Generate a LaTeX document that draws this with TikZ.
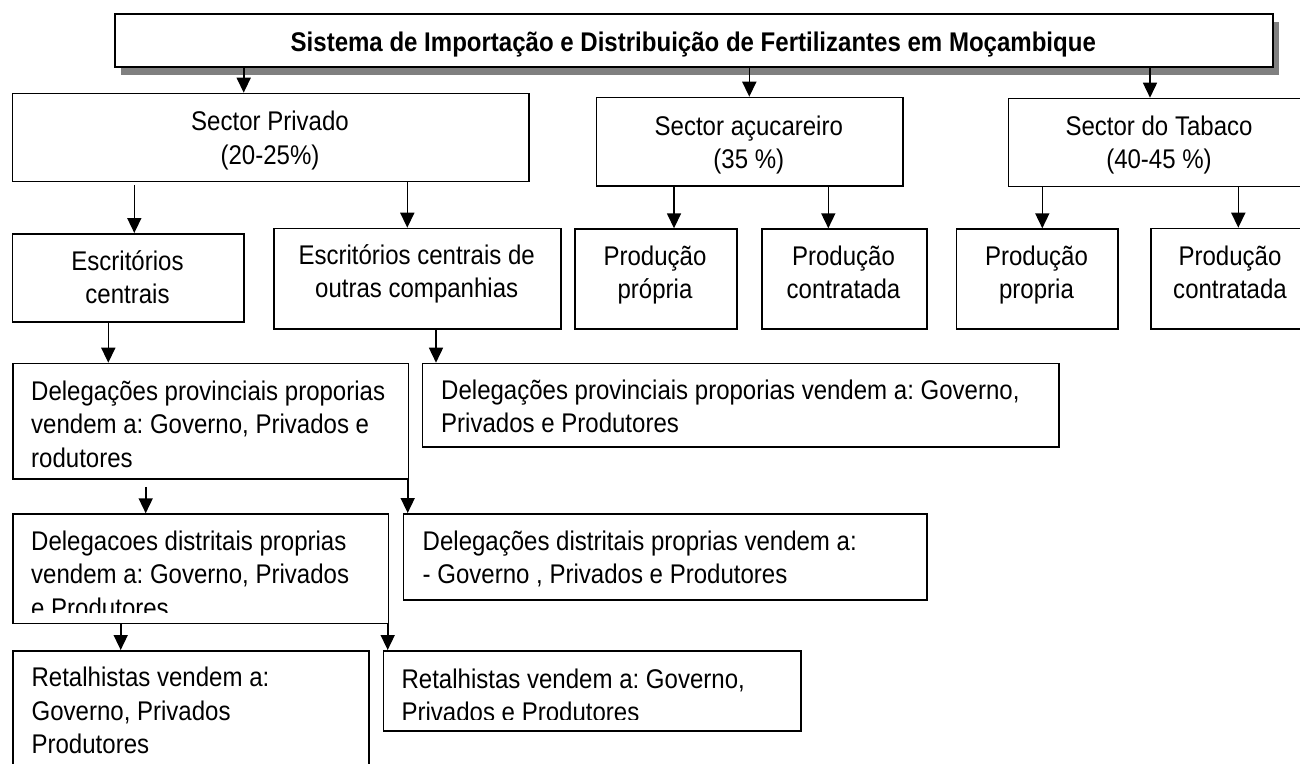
\documentclass[tikz,border=0pt]{standalone}
\usepackage{fontspec}
\setmainfont{Liberation Sans}[FakeStretch=0.89]
\usetikzlibrary{arrows.meta,shadows}
\tikzset{
  box/.style={draw=black, line width=1.6pt, rectangle, inner sep=0pt, fill=white},
  arr/.style={line width=1.6pt, -{Triangle[length=15pt,width=14pt]}},
  txt/.style={inner sep=0pt, font=\fontsize{27}{33.5}\selectfont},
  ctxt/.style={txt, align=center, anchor=north},
  ltxt/.style={txt, align=left, anchor=north west},
  ttl/.style={inner sep=0pt, font=\fontsize{27}{33.5}\selectfont\bfseries, anchor=base},
  shd/.style={general shadow={fill=black!50, shadow xshift=5.5pt, shadow yshift=-8pt}}
}
\newcommand\mybox[6][]{\node[box,#1, minimum width={(#5)-(#3)}, minimum height={(#6)-(#4)}, anchor=north west] (#2) at (#3,#4) {};}
\newcommand\myarr[4][]{\path (#4,0) coordinate (#2#3x); \draw[arr,#1] (#2.south -| #2#3x) -- (#3.north -| #2#3x);}
\newcommand\fl{\rule{0pt}{25pt}}
\frenchspacing
\begin{document}
\frenchspacing
\begin{tikzpicture}[x=1pt,y=-1pt]
\useasboundingbox (0,0) rectangle (1300,763);
\fill[white] (0,0) rectangle (1300,763);
\clip (0,0) rectangle (1300,763);

% boxes
\mybox[shd]{top}{114.3}{13.3}{1272.3}{66}
\mybox{sp}{11.7}{92.7}{528.3}{180.5}
\mybox{sa}{595.7}{96.7}{902}{185}
\mybox{tb}{1007.7}{97.7}{1310}{185.7}
\mybox{esc}{11.7}{233}{243.3}{321}
\mybox{outras}{273.3}{227.7}{560}{328.3}
\mybox{ppa}{574}{228.3}{736}{328.3}
\mybox{pca}{761}{228.3}{926}{328.3}
\mybox{ppb}{955.7}{228.3}{1117.3}{328.3}
\mybox{pcb}{1150}{227.7}{1310}{328.3}
\mybox{provL}{12.3}{362.7}{407.7}{478.3}
\mybox{provR}{421.7}{362.7}{1058.3}{446}
\mybox{distL}{12.3}{513.3}{387.7}{622.7}
\mybox{distR}{402.7}{513}{926}{599}
\mybox{retL}{12.3}{650}{368.3}{800}
\mybox{retR}{382.7}{650}{800}{730}

% texts
\node[ttl] (ttitle) at (693.3,51.7) {Sistema de Importação e Distribuição de Fertilizantes em Moçambique};
\node[ctxt] (tsp) at (270,105.7) {\fl Sector Privado\\(20-25\%)};
\node[ctxt] (tsa) at (748.8,110) {\fl Sector açucareiro\\(35 \%)};
\node[ctxt] (ttb) at (1159,110) {\fl Sector do Tabaco\\(40-45 \%)};
\node[ctxt] (tesc) at (127.5,245) {\fl Escritórios\\centrais};
\node[ctxt] (toutras) at (416.7,239) {\fl Escritórios centrais de\\outras companhias};
\node[ctxt] (tppa) at (655,240) {\fl Produção\\própria};
\node[ctxt] (tpca) at (843.5,240) {\fl Produção\\contratada};
\node[ctxt] (tppb) at (1036.5,240) {\fl Produção\\propria};
\node[ctxt] (tpcb) at (1230,240) {\fl Produção\\contratada};
\node[ltxt] (tprovL) at (31,375) {\fl Delegações provinciais proporias\\vendem a: Governo, Privados e\\rodutores};
\node[ltxt] (tprovR) at (441,374) {\fl Delegações provinciais proporias vendem a: Governo,\\Privados e Produtores};
\begin{scope}
\clip (12.3,513.3) rectangle (387.7,612.7);
\node[ltxt] (tdistL) at (31,525) {\fl Delegacoes distritais proprias\\vendem a: Governo, Privados\\e Produtores};
\end{scope}
\node[ltxt] (tdistR) at (422.5,525) {\fl Delegações distritais proprias vendem a:\\- Governo , Privados e Produtores};
\begin{scope}
\clip (12.3,650) rectangle (368.3,753);
\node[ltxt] (tretL) at (31.4,661.7) {\fl Retalhistas vendem a:\\Governo, Privados\\Produtores};
\end{scope}
\begin{scope}
\clip (382.7,650) rectangle (800,719.3);
\node[ltxt] (tretR) at (401.4,663) {\fl Retalhistas vendem a: Governo,\\Privados e Produtores};
\end{scope}

% arrows
\myarr{top}{sp}{243.7}
\myarr{top}{sa}{749.3}
\myarr{top}{tb}{1150}
\myarr[shorten <=3pt]{sp}{esc}{134.3}
\myarr{sp}{outras}{407.3}
\myarr{sa}{ppa}{674}
\myarr{sa}{pca}{828.3}
\myarr{tb}{ppb}{1042.3}
\myarr{tb}{pcb}{1238.3}
\myarr{esc}{provL}{108.3}
\myarr{outras}{provR}{436}
\myarr[shorten <=7pt]{provL}{distL}{145.7}
\myarr{provL}{distR}{407.7}
\myarr{distL}{retL}{120.7}
\myarr{distL}{retR}{387.7}
\end{tikzpicture}
\end{document}
